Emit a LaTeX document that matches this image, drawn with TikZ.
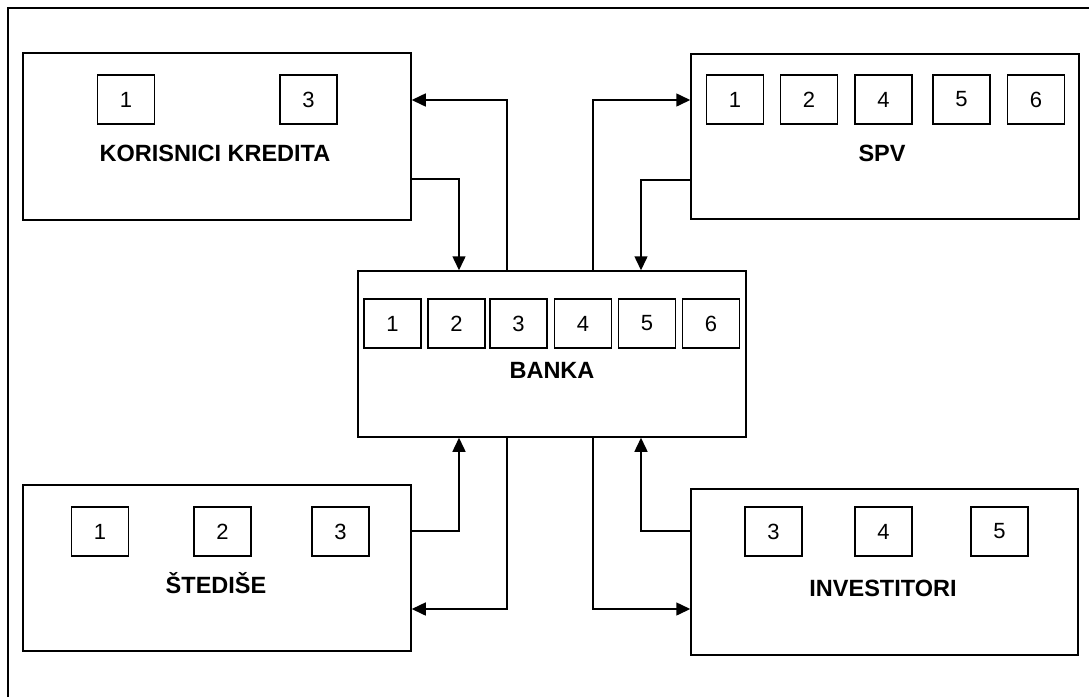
\documentclass[tikz,border=0pt]{standalone}
\usepackage{fontspec}
\setmainfont{Liberation Sans}
\usetikzlibrary{arrows.meta}

\begin{document}
\begin{tikzpicture}[x=1pt, y=-1pt,
  line width=1.5pt,
  party/.style={draw, line width=1.5pt, inner sep=0pt, minimum width=388pt, minimum height=166pt},
  cell/.style={draw, line width=1.4pt, inner sep=0pt, minimum width=57pt, minimum height=49pt,
               font=\fontsize{22}{22}\selectfont},
  title/.style={anchor=base, inner sep=0pt, font=\fontsize{23.5}{24}\selectfont\bfseries},
  arr/.style={-{Triangle[length=14pt, width=13pt]}, line width=1.5pt}
]
\useasboundingbox (0,0) rectangle (1089,697);

% outer frame (top and left edges)
\draw[line width=1.8pt] (8,697) -- (8,8) -- (1089,8);

% participants
\node[party, minimum height=167pt] (kor)   at (217,136.5) {};
\node[party, minimum height=165pt] (spv)   at (885,136.5) {};
\node[party]                       (banka) at (552,354)   {};
\node[party]                       (sted)  at (217,568)   {};
\node[party, minimum width=387pt]  (inv)   at (884.5,572) {};

% titles
\node[title] (korT)   at (215,161) {KORISNICI KREDITA};
\node[title] (spvT)   at (882,161) {SPV};
\node[title] (bankaT) at (552,378) {BANKA};
\node[title] (stedT)  at (216,593) {ŠTEDIŠE};
\node[title] (invT)   at (883,596) {INVESTITORI};

% numbered cells
\node[cell] (k1) at (126,99.5)   {1};
\node[cell] (k3) at (308.5,99.5) {3};

\node[cell] (s1) at (735,99.5)    {1};
\node[cell] (s2) at (809,99.5)    {2};
\node[cell] (s4) at (883.5,99.5)  {4};
\node[cell] (s5) at (961.5,99.5)  {5};
\node[cell] (s6) at (1036,99.5)   {6};

\node[cell] (b1) at (392.5,323.5) {1};
\node[cell] (b2) at (456.5,323.5) {2};
\node[cell] (b3) at (518.5,323.5) {3};
\node[cell] (b4) at (583,323.5)   {4};
\node[cell] (b5) at (647,323.5)   {5};
\node[cell] (b6) at (711,323.5)   {6};

\node[cell] (d1) at (100,531.5)   {1};
\node[cell] (d2) at (222.5,531.5) {2};
\node[cell] (d3) at (340.5,531.5) {3};

\node[cell] (i3) at (773.5,531.5) {3};
\node[cell] (i4) at (883.5,531.5) {4};
\node[cell] (i5) at (999.5,531.5) {5};

% flows between the bank and the other parties
\draw[arr] (banka.north -| 507,0) |- (kor.east |- 0,100);
\draw[arr] (kor.east |- 0,179) -| (banka.north -| 459,0);
\draw[arr] (banka.north -| 593,0) |- (spv.west |- 0,100);
\draw[arr] (spv.west |- 0,180) -| (banka.north -| 641,0);

\draw[arr] (sted.east |- 0,531) -| (banka.south -| 459,0);
\draw[arr] (banka.south -| 507,0) |- (sted.east |- 0,609);
\draw[arr] (inv.west |- 0,531) -| (banka.south -| 641,0);
\draw[arr] (banka.south -| 593,0) |- (inv.west |- 0,609);
\end{tikzpicture}
\end{document}
